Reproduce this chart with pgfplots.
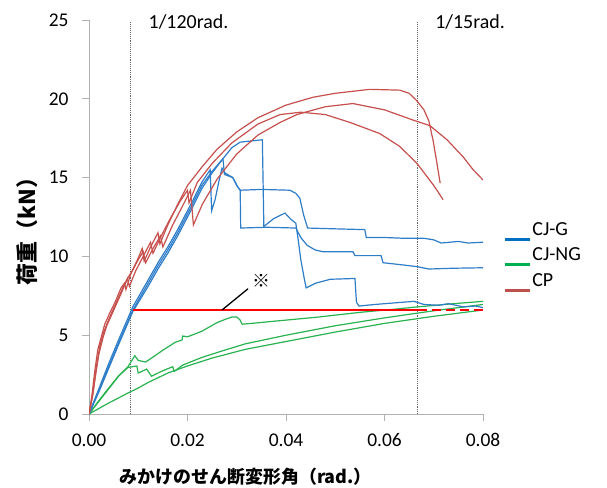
\documentclass[border=0pt]{standalone}
\usepackage{pgfplots}
\pgfplotsset{compat=1.18}
\usepackage{fontspec}
\setmainfont{Carlito}
\newfontfamily\jp{Noto Sans CJK JP}
\definecolor{cjg}{RGB}{46,125,200}
\definecolor{cjgL}{RGB}{0,112,192}
\definecolor{cjng}{RGB}{40,178,80}
\definecolor{cjngL}{RGB}{0,176,80}
\definecolor{cp}{RGB}{198,80,77}
\definecolor{cpL}{RGB}{192,80,77}
\begin{document}
\begin{tikzpicture}
\begin{axis}[
  scale only axis, width=394bp, height=394bp,
  xmin=0, xmax=0.08, ymin=0, ymax=25,
  clip mode=individual,
  axis x line=bottom, axis y line=left,
  axis line style={draw=gray!60, line width=0.8bp, -},
  xtick={0,0.02,0.04,0.06,0.08}, ytick={0,5,10,15,20,25},
  tick align=outside, major tick length=7bp,
  tick style={draw=gray!60, line width=0.8bp},
  minor tick num=0,
  scaled x ticks=false,
  xticklabel style={yshift=-9bp, /pgf/number format/.cd, fixed, fixed zerofill, precision=2},
  yticklabel style={xshift=-10bp},
  ticklabel style={font=\fontsize{19.5}{22}\selectfont},
  /pgf/number format/assume math mode=true,
  xlabel={\jp\bfseries みかけのせん断変形角（rad.）},
  xlabel style={at={(rel axis cs:0.398,-0.160)}, anchor=center, font=\fontsize{18}{21}\selectfont},
  ylabel={\jp\bfseries 荷重（kN）},
  ylabel style={at={(rel axis cs:-0.157,0.477)}, anchor=center, font=\fontsize{22}{26}\selectfont},
  legend style={at={(1.051,0.401)}, anchor=west, draw=none, fill=none,
    font=\fontsize{20}{24}\selectfont, inner xsep=0pt,
    nodes={inner sep=1bp, text height=14bp, text depth=4bp}, row sep=5bp},
  legend cell align=left,
  legend image code/.code={\draw[#1, line width=3bp] (0bp,-9bp) -- (25bp,-9bp);},
]
% legend images
\addlegendimage{cjgL}
\addlegendentry{CJ-G}
\addlegendimage{cjngL}
\addlegendentry{CJ-NG}
\addlegendimage{cpL}
\addlegendentry{CP}

% reference dotted lines
\addplot[forget plot, densely dotted, gray!80!black, line width=0.9bp] coordinates {(0.008333,0) (0.008333,24.9)};
\addplot[forget plot, densely dotted, gray!80!black, line width=0.9bp] coordinates {(0.066667,0) (0.066667,24.9)};

% CJ-NG (green)
\addplot[forget plot, cjng, line width=1.2bp] coordinates {
(0,0) (0.002,0.8) (0.004,1.6) (0.006,2.4) (0.0079,3.0) (0.0093,3.7) (0.0100,3.4) (0.0115,3.3)
(0.0127,3.55) (0.0150,4.05) (0.0175,4.55) (0.0189,4.7) (0.0190,4.95) (0.0200,4.9) (0.0229,5.25)
(0.0260,5.8) (0.0276,6.0) (0.0290,6.15) (0.0300,6.15) (0.0306,6.0) (0.0311,5.7) (0.0330,5.75)
(0.0380,5.9) (0.0465,6.15) (0.0550,6.45) (0.0620,6.65) (0.0668,6.8) (0.0740,7.0) (0.0800,7.15)};
\addplot[forget plot, cjng, line width=1.2bp] coordinates {
(0,0) (0.002,0.85) (0.004,1.65) (0.0061,2.45) (0.0079,2.95) (0.0097,3.05) (0.0100,2.6) (0.0117,2.85)
(0.0127,2.4) (0.0150,2.75) (0.0170,3.0) (0.0173,2.7) (0.0190,3.1) (0.0230,3.6) (0.0270,4.0)
(0.0317,4.45) (0.0400,5.0) (0.0500,5.6) (0.0600,6.1) (0.0700,6.55) (0.0800,6.95)};
\addplot[forget plot, cjng, line width=1.2bp] coordinates {
(0,0) (0.002,0.35) (0.004,0.7) (0.006,1.02) (0.0079,1.33) (0.010,1.65) (0.012,2.0) (0.014,2.3)
(0.016,2.6) (0.020,3.05) (0.025,3.55) (0.0317,4.1) (0.040,4.6) (0.050,5.2) (0.060,5.75)
(0.070,6.2) (0.080,6.6)};

% CJ-G (blue)
\addplot[forget plot, cjg, line width=1.2bp] coordinates {
(0,0) (0.002,1.6) (0.004,3.2) (0.006,4.7) (0.0089,6.8) (0.012,8.5) (0.014,9.6) (0.016,10.6)
(0.018,11.7) (0.0195,12.6) (0.021,13.5) (0.0229,14.7) (0.0246,15.5) (0.0249,12.9) (0.0256,13.6)
(0.0264,14.8) (0.0270,15.6) (0.0276,15.3) (0.0292,15.0) (0.0300,14.5) (0.0307,14.2) (0.0350,14.25)
(0.0408,14.2) (0.0420,14.0) (0.0428,13.7) (0.0436,12.6) (0.0444,11.8) (0.0500,11.75) (0.0560,11.7)
(0.0563,11.2) (0.0600,11.2) (0.0640,11.15) (0.0680,11.15) (0.0700,11.05) (0.0715,10.85)
(0.0750,10.95) (0.0770,10.85) (0.0800,10.9)};
\addplot[forget plot, cjg, line width=1.2bp] coordinates {
(0,0) (0.002,1.5) (0.004,3.0) (0.006,4.5) (0.0089,6.6) (0.012,8.3) (0.014,9.4) (0.016,10.4)
(0.018,11.5) (0.0195,12.4) (0.021,13.3) (0.0229,14.5) (0.025,15.4) (0.0272,16.2) (0.0275,15.2)
(0.0292,15.0) (0.0302,14.4) (0.0307,14.2) (0.0308,11.8) (0.0360,11.85) (0.0420,11.8) (0.0430,11.2)
(0.0443,10.7) (0.0460,10.4) (0.0475,10.3) (0.0536,10.3) (0.0540,10.05) (0.0593,10.05) (0.0597,9.6)
(0.0640,9.45) (0.0666,9.35) (0.0690,9.2) (0.0740,9.25) (0.0800,9.28)};
\addplot[forget plot, cjg, line width=1.2bp] coordinates {
(0,0) (0.002,1.4) (0.004,2.9) (0.006,4.4) (0.0089,6.5) (0.012,8.1) (0.014,9.2) (0.016,10.2)
(0.018,11.3) (0.0195,12.2) (0.021,13.1) (0.0229,14.3) (0.0250,15.3) (0.0272,16.2) (0.0290,16.9)
(0.0307,17.25) (0.0352,17.4) (0.0355,11.9) (0.0375,12.4) (0.0398,12.75) (0.0410,12.35) (0.0420,12.1)
(0.0425,11.0) (0.0430,9.8) (0.0437,8.6) (0.0441,8.0) (0.0460,8.3) (0.0490,8.55) (0.0540,8.6)
(0.0543,7.1) (0.0548,6.85) (0.0580,6.95) (0.0620,7.05) (0.0660,7.15) (0.0680,6.95) (0.0710,6.9)
(0.0730,7.0) (0.0760,6.8) (0.0785,6.85) (0.0800,6.75)};

% CP (red)
\addplot[forget plot, cp, line width=1.2bp] coordinates {
(0,0) (0.0006,1.2) (0.0012,2.8) (0.0018,4.1) (0.0025,4.9) (0.0032,5.7) (0.0042,6.4) (0.0053,7.1)
(0.0065,8.0) (0.0072,8.3) (0.0075,7.9) (0.0085,8.9) (0.0100,9.9) (0.0108,10.5) (0.0112,9.7)
(0.0125,10.6) (0.0140,11.5) (0.0144,10.8) (0.0160,12.0) (0.0180,13.3) (0.0200,14.5) (0.0230,15.7)
(0.0260,16.8) (0.0300,17.9) (0.0343,18.8) (0.0400,19.6) (0.0455,20.1) (0.0500,20.35) (0.0570,20.6)
(0.0631,20.55) (0.0650,20.35) (0.0665,19.9) (0.0680,19.3) (0.0690,18.6) (0.0699,17.3) (0.0706,16.0)
(0.0713,14.65)};
\addplot[forget plot, cp, line width=1.2bp] coordinates {
(0,0) (0.0008,1.3) (0.0015,3.0) (0.0022,4.3) (0.0030,5.2) (0.0040,6.0) (0.0050,6.7) (0.0060,7.4)
(0.0070,8.1) (0.0080,8.7) (0.0090,9.2) (0.0100,9.8) (0.0110,10.3) (0.0115,9.6) (0.0130,10.5)
(0.0145,11.3) (0.0150,10.6) (0.0170,12.0) (0.0190,13.2) (0.0206,14.2) (0.0212,12.0) (0.0230,13.3)
(0.0260,14.9) (0.0300,16.5) (0.0343,17.7) (0.0388,18.5) (0.0422,19.0) (0.0480,19.5) (0.0536,19.7)
(0.0600,19.3) (0.0658,18.65) (0.0692,18.3) (0.0727,17.4) (0.0760,16.3) (0.0780,15.5) (0.0800,14.85)};
\addplot[forget plot, cp, line width=1.2bp] coordinates {
(0,0) (0.0007,1.1) (0.0014,2.6) (0.0020,3.8) (0.0028,4.8) (0.0036,5.6) (0.0046,6.3) (0.0056,7.0)
(0.0066,7.7) (0.0078,8.6) (0.0082,8.1) (0.0095,9.1) (0.0110,10.0) (0.0125,10.9) (0.0130,10.2)
(0.0145,11.2) (0.0165,12.4) (0.0185,13.5) (0.0200,14.2) (0.0203,13.4) (0.0220,14.7) (0.0250,15.9)
(0.0290,17.2) (0.0343,18.4) (0.0388,19.0) (0.0430,19.15) (0.0480,19.0) (0.0530,18.5) (0.0590,17.8)
(0.0630,17.0) (0.0666,15.9) (0.0700,14.5) (0.0719,13.6)};

% red reference line
\addplot[forget plot, red, line width=1.4bp] coordinates {(0.0089,6.6) (0.0667,6.6)};
\addplot[forget plot, red, line width=2.4bp, dash pattern=on 9bp off 5bp] coordinates {(0.0667,6.6) (0.0800,6.6)};

% annotations
\draw[black, line width=1.3bp] (axis cs:0.0270,6.6) -- (axis cs:0.0323,7.95);
\node[font=\jp\fontsize{18}{20}\selectfont] at (axis cs:0.0350,8.45) {※};
\node[anchor=west, font=\fontsize{20}{24}\selectfont] at (axis cs:0.0114,24.85) {1/120rad.};
\node[anchor=west, font=\fontsize{20}{24}\selectfont] at (axis cs:0.0696,24.85) {1/15rad.};

\coordinate (BL) at (rel axis cs:-0.2259,-0.1853);
\coordinate (TR) at (rel axis cs:1.3147,1.0508);
\end{axis}
\pgfresetboundingbox
\path[use as bounding box] (BL) rectangle (TR);
\end{tikzpicture}
\end{document}
